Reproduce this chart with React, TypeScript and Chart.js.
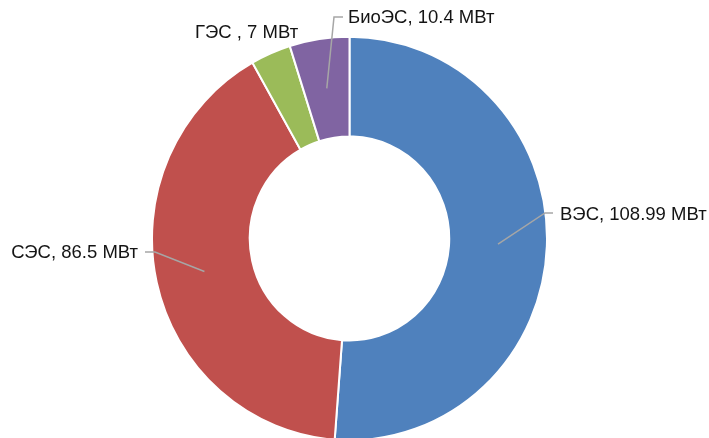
import React, { useEffect, useRef } from "react";
import { Chart, registerables } from "chart.js";

Chart.register(...registerables);

const categories = ["ВЭС", "СЭС", "ГЭС ", "БиоЭС"];
const values = [108.99, 86.5, 7, 10.4];
const unit = "МВт";
const colors = ["#4F81BD", "#C0504D", "#9BBB59", "#8064A2"];

// slight vertical stretch of the ring seen in the reference
const ySquash = 1.022;

// label placement (annotation layout): text anchor, alignment, elbow of leader line
const labelLayout = [
  { x: 560, y: 215, align: "left", elbow: [545, 213], end: [553, 213] },
  { x: 138, y: 253, align: "right", elbow: [155, 252], end: [145, 252] },
  { x: 195, y: 33, align: "left", elbow: null, end: null },
  { x: 348, y: 18, align: "left", elbow: [334, 17], end: [343, 17] },
];

const stretchPlugin = {
  id: "stretchRing",
  beforeDatasetsDraw(chart: any) {
    const ctx = chart.ctx;
    const arc = chart.getDatasetMeta(0).data[0];
    const cx = arc.x;
    const cy = arc.y;
    ctx.save();
    ctx.translate(cx, cy);
    ctx.scale(1, ySquash);
    ctx.translate(-cx, -cy);
  },
  afterDatasetsDraw(chart: any) {
    chart.ctx.restore();
  },
};

const labelPlugin = {
  id: "calloutLabels",
  afterDraw(chart: any) {
    const ctx = chart.ctx;
    const meta = chart.getDatasetMeta(0);
    ctx.save();
    ctx.font = '18.5px "Liberation Sans", Arial, sans-serif';
    ctx.textBaseline = "middle";
    meta.data.forEach((arc: any, i: number) => {
      const lay = labelLayout[i];
      const { x, y, startAngle, endAngle, innerRadius, outerRadius } = arc.getProps(
        ["x", "y", "startAngle", "endAngle", "innerRadius", "outerRadius"],
        true
      );
      const mid = (startAngle + endAngle) / 2;
      const r = (innerRadius + outerRadius) / 2;
      const sx = x + Math.cos(mid) * r;
      const sy = y + Math.sin(mid) * r * ySquash;
      if (lay.elbow) {
        ctx.strokeStyle = "#A6A6A6";
        ctx.lineWidth = 1.5;
        ctx.beginPath();
        ctx.moveTo(sx, sy);
        ctx.lineTo(lay.elbow[0], lay.elbow[1]);
        ctx.lineTo(lay.end[0], lay.end[1]);
        ctx.stroke();
      }
      ctx.fillStyle = "#141414";
      ctx.textAlign = lay.align;
      ctx.fillText(`${categories[i]}, ${values[i]} ${unit}`, lay.x, lay.y);
    });
    ctx.restore();
  },
};

export default function App() {
  const ref = useRef<HTMLCanvasElement>(null);
  useEffect(() => {
    const chart = new Chart(ref.current!, {
      type: "doughnut",
      data: {
        labels: categories,
        datasets: [
          {
            data: values,
            backgroundColor: colors,
            borderColor: "#FFFFFF",
            borderWidth: 2,
          },
        ],
      },
      options: {
        responsive: false,
        maintainAspectRatio: false,
        animation: false,
        radius: 197.5,
        cutout: "50.5%",
        layout: { padding: { top: 41, bottom: 2, left: 152, right: 162 } },
        plugins: { legend: { display: false }, tooltip: { enabled: false } },
      },
      plugins: [stretchPlugin, labelPlugin],
    });
    return () => chart.destroy();
  }, []);
  return (
    <div style={{ position: "fixed", left: 0, top: 0, width: 709, height: 438, background: "#fff" }}>
      <canvas ref={ref} width={709} height={438} style={{ width: 709, height: 438 }} />
    </div>
  );
}
